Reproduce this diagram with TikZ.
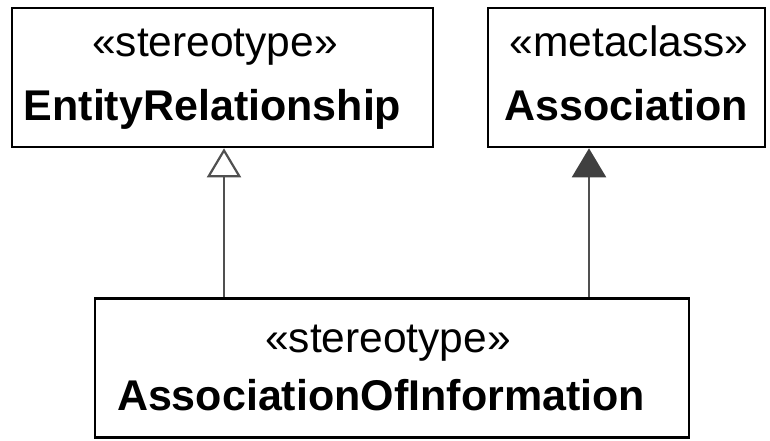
\documentclass[tikz,border=0pt]{standalone}
\usepackage{fontspec}
\setmainfont{Liberation Sans}
\usetikzlibrary{arrows.meta}
\definecolor{linegray}{HTML}{505050}
\definecolor{tipgray}{HTML}{404040}
\begin{document}
\begin{tikzpicture}[x=1pt,y=-1pt,
  classbox/.style={draw=black, line width=2.6pt, rectangle, inner sep=0pt, minimum height=139pt},
  keyword/.style={anchor=base, inner sep=0pt, font=\fontsize{42.5}{50}\selectfont},
  classname/.style={anchor=base, inner sep=0pt, font=\fontsize{43}{50}\selectfont\bfseries},
  generalization/.style={draw=linegray, line width=2.2pt, -{Triangle[open, length=29pt, width=34pt, line width=2.2pt]}},
  extension/.style={draw=linegray, line width=2.2pt, -{Triangle[length=29pt, width=34pt, color=tipgray]}}]
\useasboundingbox (0,0) rectangle (770,440);
% classes
\node[classbox, minimum width=421pt] (er) at (222.5,77.5) {};
\node[classbox, minimum width=277pt] (assoc) at (626.5,77.5) {};
\node[classbox, minimum width=594pt] (aoi) at (392,368) {};
% labels
\node[keyword] (erkw) at (215,56) {«stereotype»};
\node[classname] (ername) at (212.5,120) {EntityRelationship};
\node[keyword] (assockw) at (629,56) {«metaclass»};
\node[classname] (assocname) at (626,120) {Association};
\node[keyword] (aoikw) at (388,352) {«stereotype»};
\node[classname] (aoiname) at (381,410) {AssociationOfInformation};
% relationships
\draw[generalization] (aoi.north -| 224,0) -- (er.south -| 224,0);
\draw[extension] (aoi.north -| 589,0) -- (assoc.south -| 589,0);
\end{tikzpicture}
\end{document}
